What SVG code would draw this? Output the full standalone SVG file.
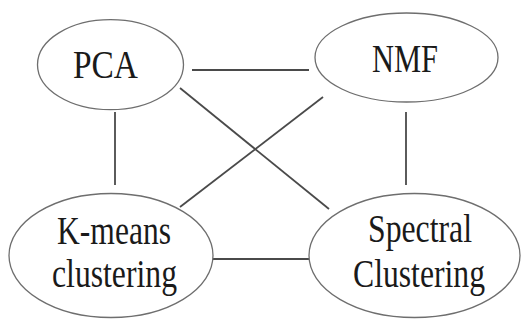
<svg xmlns="http://www.w3.org/2000/svg" width="522" height="324" viewBox="0 0 522 324">
  <style>
    .node ellipse { fill: #ffffff; stroke: #6e6e6e; stroke-width: 1.3; }
    .node text { font-family: "Liberation Serif", "Times New Roman", serif; font-size: 39px; fill: #1a1a1a; text-anchor: middle; }
    .edges line { stroke: #4a4a4a; stroke-width: 1.8; stroke-linecap: butt; }
  </style>
  <rect width="522" height="324" fill="#ffffff"/>

  <!-- connectors between the four methods -->
  <g id="edges" class="edges">
    <line x1="192" y1="70" x2="309" y2="70"/>
    <line x1="115" y1="112" x2="115" y2="185"/>
    <line x1="406" y1="112" x2="406" y2="185"/>
    <line x1="213" y1="259" x2="309" y2="259"/>
    <line x1="180" y1="88" x2="329" y2="209"/>
    <line x1="323" y1="97" x2="180" y2="207"/>
  </g>

  <g id="pca" class="node">
    <ellipse cx="110.5" cy="64.7" rx="73" ry="45"/>
    <text x="105.5" y="78" textLength="65" lengthAdjust="spacingAndGlyphs">PCA</text>
  </g>

  <g id="nmf" class="node">
    <ellipse cx="406.5" cy="57.5" rx="91.5" ry="44.5"/>
    <text x="405" y="72" textLength="66" lengthAdjust="spacingAndGlyphs">NMF</text>
  </g>

  <g id="kmeans" class="node">
    <ellipse cx="111" cy="255.5" rx="102" ry="62"/>
    <text x="114" y="244" textLength="114" lengthAdjust="spacingAndGlyphs">K-means</text>
    <text x="114.5" y="287" textLength="125" lengthAdjust="spacingAndGlyphs">clustering</text>
  </g>

  <g id="spectral" class="node">
    <ellipse cx="414.5" cy="255.5" rx="105.5" ry="62"/>
    <text x="420" y="242" textLength="104" lengthAdjust="spacingAndGlyphs">Spectral</text>
    <text x="419" y="287" textLength="132" lengthAdjust="spacingAndGlyphs">Clustering</text>
  </g>
</svg>
